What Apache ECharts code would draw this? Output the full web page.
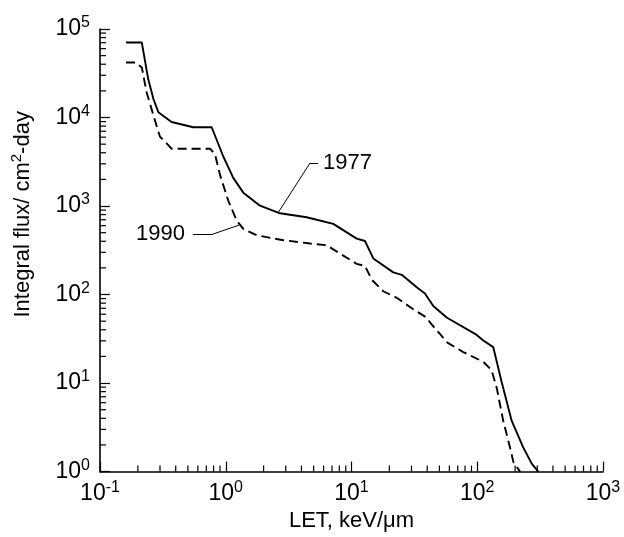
<!DOCTYPE html>
<html>
<head>
<meta charset="utf-8">
<script src="https://cdn.jsdelivr.net/npm/echarts@6/dist/echarts.min.js"></script>
<style>
  html, body { margin: 0; padding: 0; background: #fff; }
  #chart { width: 624px; height: 537px; }
</style>
</head>
<body>
<div id="chart"></div>
<script>
  // 1977 curve (solid)
  var let1977 = [0.161, 0.215, 0.242, 0.266, 0.291, 0.371, 0.552, 0.773, 0.956, 1.148, 1.379, 1.872, 2.70, 4.40, 7.16, 11.0, 12.8, 14.9, 21.5, 25.1, 33.0, 38.4, 44.7, 57.1, 99, 111.7, 134, 156, 188, 232, 271, 306];
  var flux1977 = [70300, 70300, 27000, 16200, 11500, 8900, 7760, 7760, 3630, 2080, 1417, 1008, 828, 747, 629, 428, 403, 256, 178, 167, 121, 103, 74.3, 55.0, 35.0, 30.3, 25.5, 10.4, 3.73, 1.88, 1.23, 1.0];

  // 1990 curve (dashed)
  var let1990 = [0.161, 0.193, 0.215, 0.235, 0.266, 0.300, 0.329, 0.371, 0.750, 0.821, 0.899, 1.048, 1.222, 1.379, 1.762, 2.87, 4.68, 6.35, 8.61, 11.0, 12.8, 14.5, 17.9, 22.9, 31.0, 39.6, 42.1, 50.5, 57.1, 77.4, 111.7, 130, 143, 161, 182, 194, 219];
  var flux1990 = [41800, 41800, 36800, 19200, 10550, 6070, 5330, 4440, 4440, 3850, 2265, 1145, 686, 553, 467, 411, 377, 361, 275, 222, 211, 147, 109, 91.9, 68.2, 55.0, 48.4, 35.9, 29.0, 22.4, 17.4, 14.0, 8.77, 3.73, 1.88, 1.28, 1.0];

  // minor tick values (2..9 x 10^k)
  var xMinorTicks = [0.2, 0.3, 0.4, 0.5, 0.6, 0.7, 0.8, 0.9, 2, 3, 4, 5, 6, 7, 8, 9, 20, 30, 40, 50, 60, 70, 80, 90, 200, 300, 400, 500, 600, 700, 800, 900];
  var yMinorTicks = [2, 3, 4, 5, 6, 7, 8, 9, 20, 30, 40, 50, 60, 70, 80, 90, 200, 300, 400, 500, 600, 700, 800, 900, 2000, 3000, 4000, 5000, 6000, 7000, 8000, 9000, 20000, 30000, 40000, 50000, 60000, 70000, 80000, 90000];

  var font = 'Liberation Sans, Arial, Helvetica, sans-serif';

  function zip(xs, ys) {
    return xs.map(function (x, i) { return [x, ys[i]]; });
  }

  function powLabel(v) {
    var e = Math.round(Math.log10(v));
    return '{b|10}{s|' + e + '}';
  }

  var powRich = {
    b: { fontSize: 23, fontFamily: font, color: '#000' },
    s: { fontSize: 16, fontFamily: font, color: '#000', padding: [0, 0, 12, 0] }
  };

  // [x, y, which axis] -> 0 = LET axis tick, 1 = flux axis tick
  var minorData = xMinorTicks.map(function (v) { return [v, 10, 0]; })
    .concat(yMinorTicks.map(function (v) { return [1, v, 1]; }));

  var chart = echarts.init(document.getElementById('chart'));

  var option = {
    backgroundColor: '#fff',
    animation: false,
    grid: { left: 100, right: 21, top: 29, bottom: 59 },
    xAxis: {
      type: 'log',
      logBase: 10,
      min: 0.1,
      max: 1000,
      name: 'LET, keV/\u03bcm',
      nameLocation: 'middle',
      nameGap: 35,
      nameTextStyle: { fontSize: 22, fontFamily: font, color: '#000' },
      axisLine: { lineStyle: { color: '#000', width: 1.6 } },
      axisTick: { inside: true, length: 10, lineStyle: { color: '#000', width: 1.2 } },
      minorTick: { show: false },
      splitLine: { show: false },
      axisLabel: { margin: 8, formatter: powLabel, rich: powRich }
    },
    yAxis: {
      type: 'log',
      logBase: 10,
      min: 1,
      max: 100000,
      name: 'Integral flux/ cm{s|2}-day',
      nameLocation: 'middle',
      nameGap: 64,
      nameTextStyle: {
        fontSize: 22, fontFamily: font, color: '#000',
        padding: [0, 0, 0, 72],
        rich: {
          s: { fontSize: 15, fontFamily: font, color: '#000', padding: [0, 0, 12, 0] }
        }
      },
      axisLine: { show: true, lineStyle: { color: '#000', width: 1.6 } },
      axisTick: { show: true, inside: true, length: 10, lineStyle: { color: '#000', width: 1.2 } },
      minorTick: { show: false },
      splitLine: { show: false },
      axisLabel: { margin: 10, formatter: powLabel, rich: powRich }
    },
    series: [
      {
        // minor ticks on both axes
        type: 'custom',
        silent: true,
        clip: false,
        data: minorData,
        encode: { x: 0, y: 1 },
        renderItem: function (params, api) {
          var cs = params.coordSys;
          var c = api.coord([api.value(0), api.value(1)]);
          var shape;
          if (api.value(2) === 0) {
            var by = cs.y + cs.height;
            shape = { x1: c[0], y1: by, x2: c[0], y2: by - 6 };
          } else {
            shape = { x1: cs.x, y1: c[1], x2: cs.x + 6, y2: c[1] };
          }
          return {
            type: 'line',
            shape: shape,
            style: { stroke: '#000', lineWidth: 1.2 }
          };
        }
      },
      {
        name: '1977',
        type: 'line',
        data: zip(let1977, flux1977),
        showSymbol: false,
        symbol: 'none',
        lineStyle: { color: '#000', width: 1.9 },
        markLine: {
          silent: true,
          symbol: ['none', 'none'],
          lineStyle: { color: '#000', width: 1, type: 'solid' },
          label: { show: false },
          data: [
            [{ coord: [2.62, 849] }, { coord: [4.68, 3060] }],
            [{ coord: [4.68, 3060] }, {
              coord: [5.42, 3060],
              label: { show: true, position: 'end', distance: 5, formatter: '1977', fontSize: 22, fontFamily: font, color: '#000' }
            }]
          ]
        }
      },
      {
        name: '1990',
        type: 'line',
        data: zip(let1990, flux1990),
        showSymbol: false,
        symbol: 'none',
        lineStyle: { color: '#000', width: 1.9, type: [9, 5] },
        markLine: {
          silent: true,
          symbol: ['none', 'none'],
          lineStyle: { color: '#000', width: 1, type: 'solid' },
          label: { show: false },
          data: [
            [{ coord: [1.275, 608] }, { coord: [0.792, 483] }],
            [{ coord: [0.792, 483] }, {
              coord: [0.549, 483],
              label: { show: true, position: 'end', distance: 8, formatter: '1990', fontSize: 22, fontFamily: font, color: '#000' }
            }]
          ]
        }
      }
    ]
  };

  chart.setOption(option);
</script>
</body>
</html>
